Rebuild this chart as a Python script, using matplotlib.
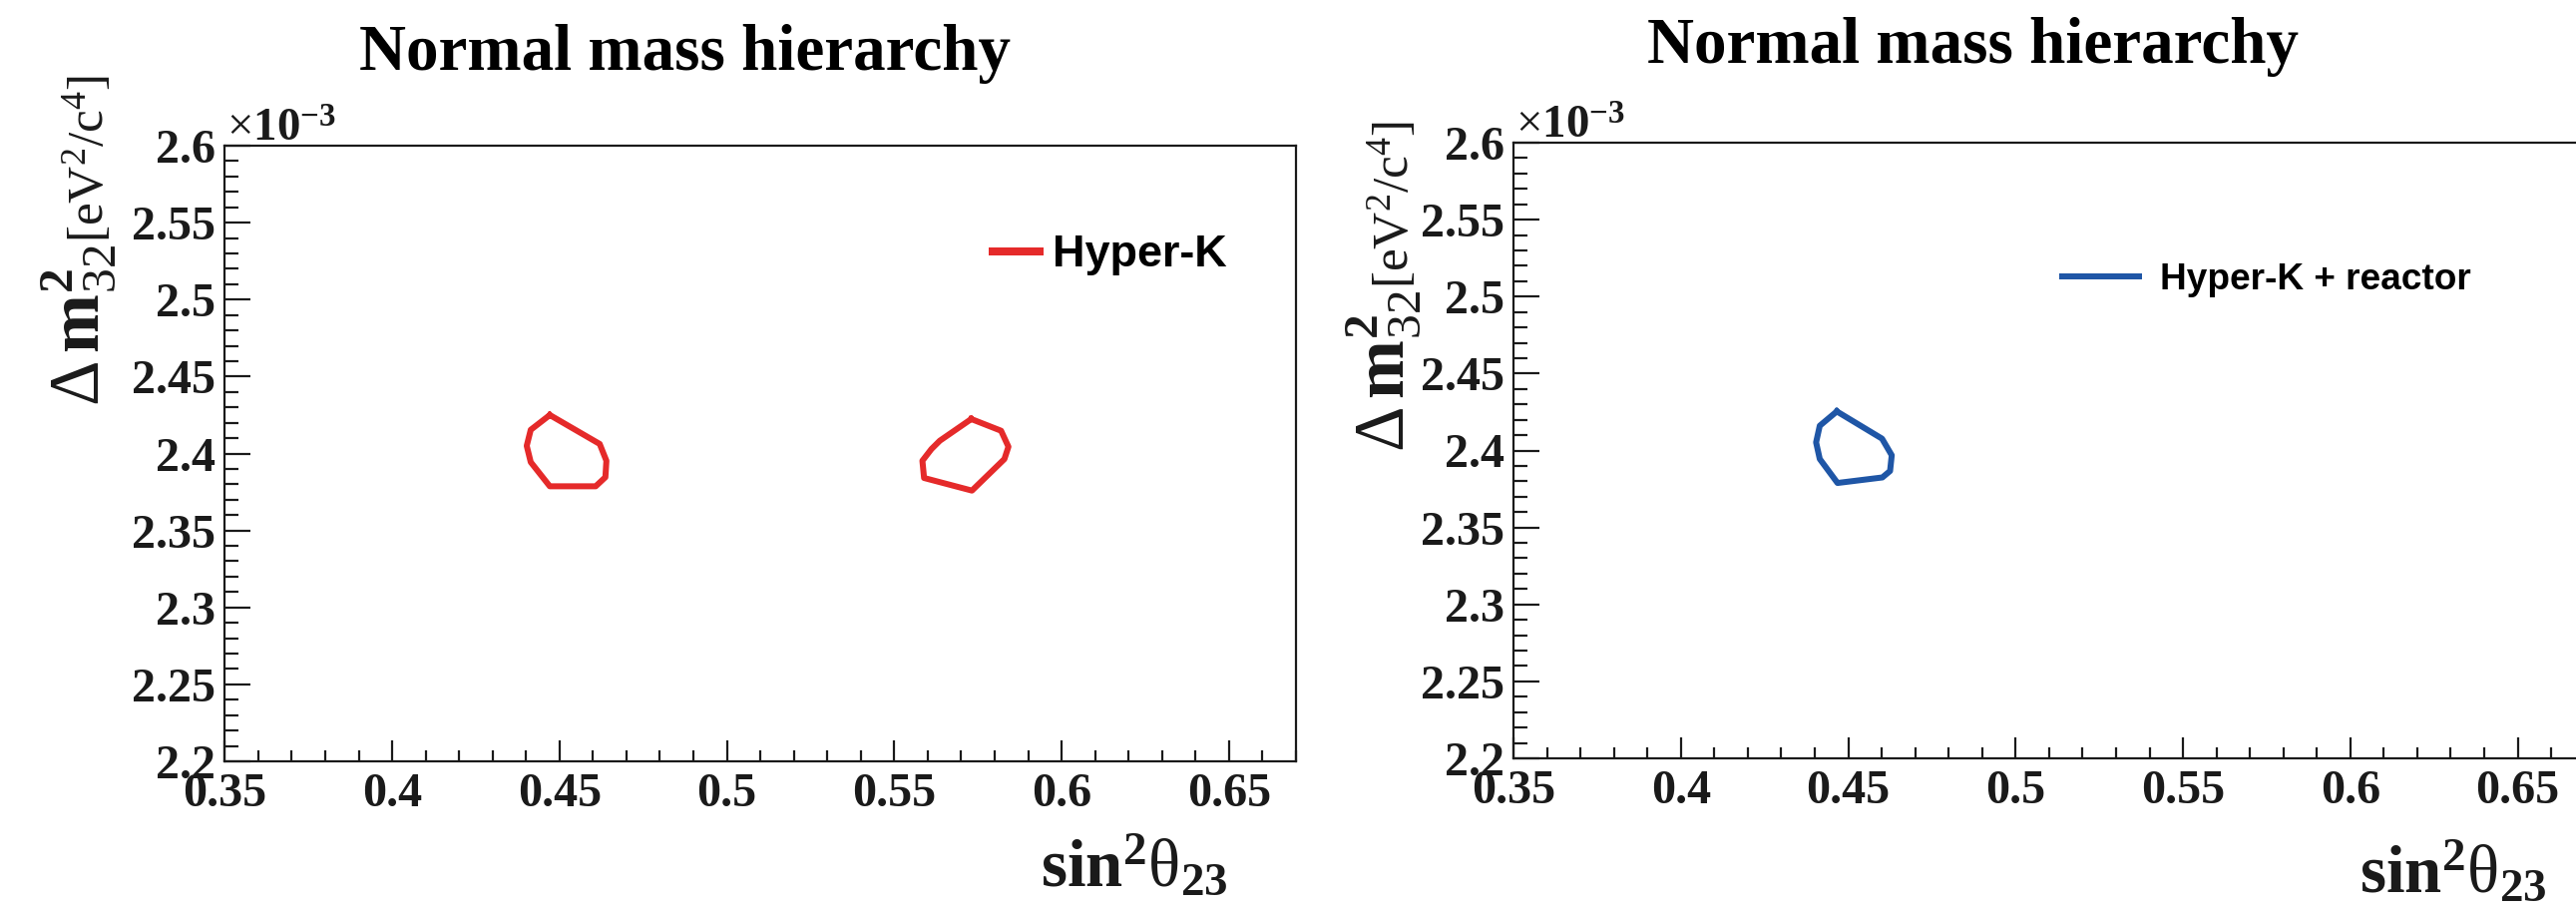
import matplotlib
matplotlib.use("Agg")
import matplotlib.pyplot as plt
from matplotlib.ticker import MultipleLocator, FuncFormatter

# ---------------- data (sin^2 theta23, Delta m^2_32 in units of 1e-3 eV^2/c^4) ----------------
hk_lower_x = [0.4471, 0.4414, 0.4402, 0.4414, 0.4471, 0.4608, 0.4637, 0.4640, 0.4620, 0.4471]
hk_lower_y = [2.4250, 2.4154, 2.4050, 2.3944, 2.3787, 2.3787, 2.3846, 2.3953, 2.4062, 2.4250]
hk_upper_x = [0.5730, 0.5819, 0.5841, 0.5829, 0.5732, 0.5589, 0.5584, 0.5611, 0.5636, 0.5730]
hk_upper_y = [2.4224, 2.4148, 2.4044, 2.3964, 2.3759, 2.3841, 2.3953, 2.4029, 2.4083, 2.4224]
hkr_x = [0.4466, 0.4415, 0.4404, 0.4415, 0.4468, 0.4602, 0.4625, 0.4630, 0.4601, 0.4466]
hkr_y = [2.4254, 2.4161, 2.4053, 2.3945, 2.3789, 2.3825, 2.3867, 2.3969, 2.4077, 2.4254]

x_range = [0.35, 0.67]
y_range = [2.2, 2.6]
title_text = "Normal mass hierarchy"
legend_left = "Hyper-K"
legend_right = "Hyper-K + reactor"
ylabel_a = r"$\Delta\,\mathbf{m}^{\mathbf{2}}_{32}$"
ylabel_b = r"[eV$^{2}$/c$^{4}$]"
xlabel_text = r"$\mathbf{sin}^{\mathbf{2}}\mathrm{\theta}_{\mathbf{23}}$"

RED = "#e52a2a"
BLUE = "#1f56a6"
INK = "#1a1a1a"

plt.rcParams["mathtext.fontset"] = "custom"
plt.rcParams["mathtext.rm"] = "Liberation Serif"
plt.rcParams["mathtext.bf"] = "Liberation Serif:bold"
plt.rcParams["mathtext.it"] = "Liberation Serif:italic"

W, H = 2582, 914
DPI = 100
fig = plt.figure(figsize=(W / DPI, H / DPI), dpi=DPI)
fig.patch.set_facecolor("white")


def fx(px):
    return px / W


def fy(py):
    return (H - py) / H


def px2pt(p):
    return p * 72.0 / DPI


def fmt(v, pos):
    return f"{round(v, 4):g}"


renderer = fig.canvas.get_renderer()


def fitted_size(s, target_len, start_px, **kw):
    t = fig.text(0.5, 0.5, s, fontsize=px2pt(start_px), **kw)
    w = t.get_window_extent(renderer=renderer).width
    t.remove()
    return start_px * target_len / w


size_a = fitted_size(ylabel_a, 162, 70)
size_b = fitted_size(ylabel_b, 168, 50, fontfamily="Liberation Serif")


def setup_axes(left, top, bottom):
    width = (1299 - 225.3) / W
    ax = fig.add_axes([fx(left), fy(bottom), width, fy(top) - fy(bottom)])
    ax.set_xlim(*x_range)
    ax.set_ylim(*y_range)
    ax.xaxis.set_major_locator(MultipleLocator(0.05))
    ax.xaxis.set_minor_locator(MultipleLocator(0.01))
    ax.yaxis.set_major_locator(MultipleLocator(0.05))
    ax.yaxis.set_minor_locator(MultipleLocator(0.01))
    ax.xaxis.set_major_formatter(FuncFormatter(fmt))
    ax.yaxis.set_major_formatter(FuncFormatter(fmt))
    for s in ax.spines.values():
        s.set_linewidth(px2pt(2.2))
        s.set_color(INK)
    ax.tick_params(axis="both", which="both", direction="in", top=False, right=False,
                   color=INK, width=px2pt(2.2))
    ax.tick_params(axis="y", which="major", length=px2pt(26), pad=px2pt(9))
    ax.tick_params(axis="y", which="minor", length=px2pt(14))
    ax.tick_params(axis="x", which="major", length=px2pt(21), pad=px2pt(11))
    ax.tick_params(axis="x", which="minor", length=px2pt(11))
    for lab in ax.get_xticklabels() + ax.get_yticklabels():
        lab.set_fontfamily("Liberation Serif")
        lab.set_fontweight("bold")
        lab.set_fontsize(px2pt(48))
        lab.set_color(INK)
    return ax


def decorate(ax, axleft, axtop, title_x, title_base, ylab_base_x, ylab_bottom, xlab_right, xlab_base):
    # exponent marker
    fig.text(fx(axleft + 2), fy(axtop - 4), r"$\times\mathbf{10}^{\mathbf{-3}}$",
             fontsize=px2pt(47), color=INK, ha="left", va="baseline")
    # title
    fig.text(fx(title_x), fy(title_base), title_text, fontfamily="Liberation Serif",
             fontweight="bold", fontsize=px2pt(65), color="black", ha="center", va="baseline")
    # y label in two parts (big symbol part, then the unit part above it)
    ta = fig.text(fx(ylab_base_x), fy(ylab_bottom), ylabel_a,
                  fontsize=px2pt(size_a), color=INK, rotation=90, rotation_mode="anchor",
                  ha="left", va="baseline")
    top_a = ta.get_window_extent(renderer=renderer).y1  # display px from bottom
    fig.text(fx(ylab_base_x + 3), (top_a + 2) / H, ylabel_b,
             fontfamily="Liberation Serif", fontsize=px2pt(size_b), color=INK, rotation=90,
             rotation_mode="anchor", ha="left", va="baseline")
    # x label
    fig.text(fx(xlab_right), fy(xlab_base), xlabel_text,
             fontsize=px2pt(67), color=INK, ha="right", va="baseline")


# ---------------- left panel ----------------
axL = setup_axes(225.3, 146, 763)
axL.plot(hk_lower_x, hk_lower_y, color=RED, lw=px2pt(6), solid_joinstyle="round", label=legend_left)
axL.plot(hk_upper_x, hk_upper_y, color=RED, lw=px2pt(6), solid_joinstyle="round")
legL = axL.legend(loc="center left", bbox_to_anchor=(fx(995), fy(256)), bbox_transform=fig.transFigure,
                  frameon=False, handlelength=47 / 45, handletextpad=13 / 45, borderpad=0,
                  borderaxespad=0, prop={"family": "Liberation Sans", "weight": "bold", "size": px2pt(45)})
for ln in legL.get_lines():
    ln.set_linewidth(px2pt(8))
decorate(axL, 225.3, 146, 686, 70, 100, 407, 1230, 888)

# ---------------- right panel ----------------
axR = setup_axes(1517, 143, 760)
axR.plot(hkr_x, hkr_y, color=BLUE, lw=px2pt(6), solid_joinstyle="round", label=legend_right)
legR = axR.legend(loc="center left", bbox_to_anchor=(fx(2067), fy(280)), bbox_transform=fig.transFigure,
                  frameon=False, handlelength=77 / 37, handletextpad=21 / 37, borderpad=0,
                  borderaxespad=0, prop={"family": "Liberation Sans", "weight": "bold", "size": px2pt(37)})
for ln in legR.get_lines():
    ln.set_linewidth(px2pt(6))
decorate(axR, 1517, 143, 1978, 63, 1408, 453, 2552, 894)

fig.savefig("out.png", dpi=DPI, facecolor="white")
